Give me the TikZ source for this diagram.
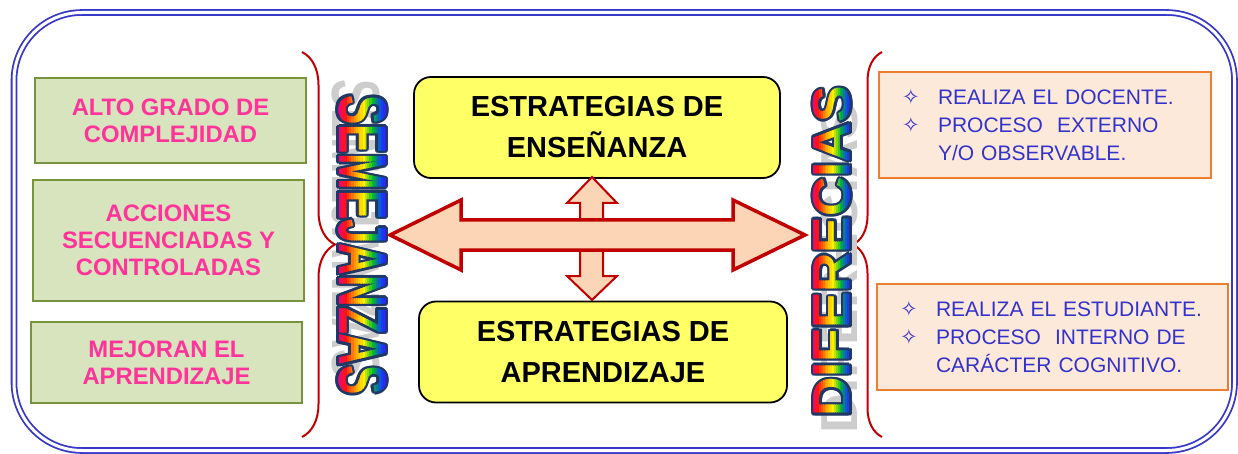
\documentclass[tikz,border=0pt]{standalone}
\usepackage{fontspec}
\usepackage{xcolor}
\usepackage{tikz}
\usetikzlibrary{decorations.pathreplacing}
\setmainfont{Liberation Sans}
\newfontfamily\starfont{DejaVu Sans}
\newfontfamily\wordartfill{Liberation Sans Bold}
\definecolor{frameblue}{RGB}{55, 55, 200}
\definecolor{boxgreen}{RGB}{215, 228, 189}
\definecolor{boxgreenline}{RGB}{119, 147, 60}
\definecolor{pinktext}{RGB}{255, 51, 153}
\definecolor{boxyellow}{RGB}{255, 255, 102}
\definecolor{boxorange}{RGB}{253, 233, 217}
\definecolor{boxorangeline}{RGB}{237, 125, 49}
\definecolor{bluetext}{RGB}{51, 51, 204}
\definecolor{bracered}{RGB}{192, 0, 0}
\definecolor{arrowfill}{RGB}{251, 213, 181}
\definecolor{wordartnavy}{RGB}{31, 56, 100}
\definecolor{wordartshadow}{RGB}{205, 205, 205}
\definecolor{rbmagenta}{RGB}{230, 0, 160}
\definecolor{rbred}{RGB}{255, 20, 20}
\definecolor{rborange}{RGB}{255, 150, 0}
\definecolor{rbyellow}{RGB}{255, 240, 0}
\definecolor{rbgreen}{RGB}{0, 190, 40}
\definecolor{rbblue}{RGB}{20, 60, 255}
\definecolor{rbviolet}{RGB}{90, 0, 200}
\newcommand\semejsize{\fontsize{68}{68}\selectfont}
\newcommand\difersize{\fontsize{52}{52}\selectfont}
\newcommand\staritem{\makebox[36pt][l]{\starfont\char"2727}}

\begin{document}
\begin{tikzpicture}[x=1pt, y=-1pt,
	frame/.style={draw=frameblue, line width=1.8pt, double=white, double distance=3pt, rounded corners=68pt},
	greenbox/.style={draw=boxgreenline, fill=boxgreen, line width=2pt, minimum width=271pt, align=center, text=pinktext, font=\bfseries\fontsize{23.8}{27}\selectfont},
	yellowbox/.style={draw=black, fill=boxyellow, line width=1.8pt, rounded corners=17pt, minimum height=101pt, align=center, font=\bfseries\fontsize{29}{41}\selectfont},
	orangebox/.style={draw=boxorangeline, fill=boxorange, line width=2pt, minimum height=106pt, inner xsep=23pt, align=left, text=bluetext, font=\fontsize{21}{28}\selectfont},
	bracket/.style={draw=bracered, line width=2pt, decorate, decoration={brace, amplitude=#1}},
	blockarrow/.style={draw=bracered, fill=arrowfill, line join=miter},
	wordartshade/.style={text=wordartshadow},
	wordartedge/.style={text=wordartnavy}]
	\useasboundingbox (0,0) rectangle (1238,454);
	\draw[frame] (14,12.5) rectangle (1234.5,450.5);

	\node (alto) at (170.5,120.5) [greenbox, minimum height=85pt] {ALTO GRADO DE\\COMPLEJIDAD};
	\node (acciones) at (168.5,240.5) [greenbox, minimum height=121pt] {ACCIONES\\SECUENCIADAS Y\\CONTROLADAS};
	\node (mejoran) at (166.5,362.5) [greenbox, minimum height=81pt] {MEJORAN EL\\APRENDIZAJE};

	\node (ensenanza) at (597,127.5) [yellowbox, minimum width=366pt] {ESTRATEGIAS DE\\ENSEÑANZA};
	\node (aprendizaje) at (603,352) [yellowbox, minimum width=368pt] {ESTRATEGIAS DE\\APRENDIZAJE};

	\node (docente) at (1045,125) [orangebox, text width=286pt] {\staritem REALIZA EL DOCENTE.\\\staritem PROCESO~ EXTERNO\\\hspace*{36pt}Y/O OBSERVABLE.};
	\node (estudiante) at (1052.5,337) [orangebox, text width=305pt] {\staritem REALIZA EL ESTUDIANTE.\\\staritem PROCESO~ INTERNO DE\\\hspace*{36pt}CARÁCTER COGNITIVO.};

	\coordinate (lefttop) at (302,52);
	\coordinate (leftbottom) at (302,437);
	\coordinate (righttop) at (882,52);
	\coordinate (rightbottom) at (882,437);
	\draw[bracket=33pt] (lefttop) -- (leftbottom);
	\draw[bracket=29pt] (rightbottom) -- (righttop);

	\draw[blockarrow, line width=2pt] (592,177) -- (617,203) -- (603,203) -- (603,276) -- (617,276) -- (592,300) -- (567,276) -- (580,276) -- (580,203) -- (567,203) -- cycle;
	\draw[blockarrow, line width=3.5pt] (390,235) -- (461,200) -- (461,220) -- (733,220) -- (733,200) -- (805,235) -- (733,270) -- (733,250) -- (461,250) -- (461,270) -- cycle;

	\node (semejshadow) at (355.5,229) [wordartshade, rotate=-90, xscale=0.645] {\wordartfill\semejsize SEMEJANZAS};
	\foreach \ang in {0,30,...,330}
		\node (semejedge-\ang) at (362.5,245) [wordartedge, shift={(\ang:2.5)}, rotate=-90, xscale=0.645] {\wordartfill\semejsize SEMEJANZAS};
	\foreach \from/\to [count=\seg from 0] in {rbmagenta/rbred, rbred/rborange, rborange/rbyellow, rbyellow/rbgreen, rbgreen/rbblue, rbblue/rbviolet}
		\foreach \sub in {0,1,2,3} {
			\pgfmathsetmacro\stripx{336+(\seg*4+\sub)*54/24}
			\pgfmathtruncatemacro\mix{100-\sub*25}
			\begin{scope}
				\clip (\stripx,0) rectangle (\stripx+2.7,454);
				\node (semej-\seg-\sub) at (362.5,245) [text=\from!\mix!\to, rotate=-90, xscale=0.645] {\wordartfill\semejsize SEMEJANZAS};
			\end{scope}
		}

	\node (difershadow) at (840,268) [wordartshade, rotate=90, xscale=1.05] {\wordartfill\difersize DIFERECIAS};
	\foreach \ang in {0,30,...,330}
		\node (diferedge-\ang) at (832,251.5) [wordartedge, shift={(\ang:2.5)}, rotate=90, xscale=1.05] {\wordartfill\difersize DIFERECIAS};
	\foreach \from/\to [count=\seg from 0] in {rbmagenta/rbred, rbred/rborange, rborange/rbyellow, rbyellow/rbgreen, rbgreen/rbblue, rbblue/rbviolet}
		\foreach \sub in {0,1,2,3} {
			\pgfmathsetmacro\stripx{810+(\seg*4+\sub)*45/24}
			\pgfmathtruncatemacro\mix{100-\sub*25}
			\begin{scope}
				\clip (\stripx,0) rectangle (\stripx+2.3,454);
				\node (difer-\seg-\sub) at (832,251.5) [text=\from!\mix!\to, rotate=90, xscale=1.05] {\wordartfill\difersize DIFERECIAS};
			\end{scope}
		}
\end{tikzpicture}
\end{document}
